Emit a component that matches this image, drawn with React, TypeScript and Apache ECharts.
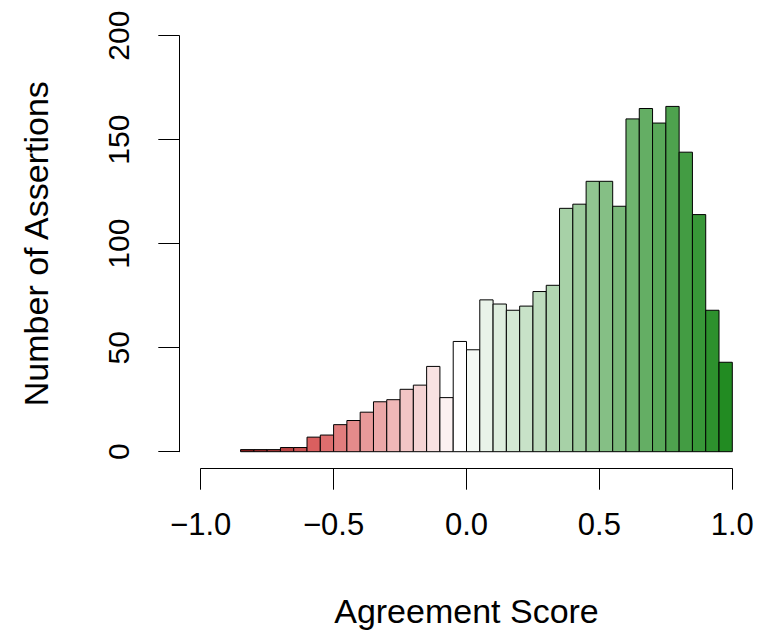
import React, { useEffect, useRef } from "react";
import * as echarts from "echarts";

const BIN_LEFT = [
  -0.85, -0.8, -0.75, -0.7, -0.65, -0.6, -0.55, -0.5, -0.45, -0.4,
  -0.35, -0.3, -0.25, -0.2, -0.15, -0.1, -0.05, 0.0, 0.05, 0.1,
  0.15, 0.2, 0.25, 0.3, 0.35, 0.4, 0.45, 0.5, 0.55, 0.6,
  0.65, 0.7, 0.75, 0.8, 0.85, 0.9, 0.95,
];
const COUNTS = [
  1, 1, 1, 2, 2, 7, 8, 13, 15, 19,
  24, 25, 30, 32, 41, 26, 53, 49, 73, 71,
  68, 70, 77, 80, 117, 119, 130, 130, 118, 160,
  165, 158, 166, 144, 114, 68, 43,
];
const BIN_WIDTH = 0.05;
const X_TICKS = [-1.0, -0.5, 0.0, 0.5, 1.0];
const Y_TICKS = [0, 50, 100, 150, 200];
const X_TITLE = "Agreement Score";
const Y_TITLE = "Number of Assertions";

// colour ramp stops (by bin right edge)
const RED_STOPS: [number, number[]][] = [
  [-0.8, [140, 25, 25]],
  [-0.55, [218, 95, 95]],
  [-0.35, [232, 154, 154]],
  [0.0, [255, 255, 255]],
];
const GREEN_END = [34, 139, 34];

function rampColor(edge: number): string {
  let rgb: number[];
  if (edge >= 0) {
    const t = Math.min(1, edge / 1.0);
    rgb = [0, 1, 2].map((i) => 255 + (GREEN_END[i] - 255) * t);
  } else {
    rgb = RED_STOPS[0][1];
    for (let k = 0; k < RED_STOPS.length - 1; k++) {
      const [a, ca] = RED_STOPS[k];
      const [b, cb] = RED_STOPS[k + 1];
      if (edge >= a && edge <= b) {
        const t = (edge - a) / (b - a);
        rgb = [0, 1, 2].map((i) => ca[i] + (cb[i] - ca[i]) * t);
        break;
      }
    }
  }
  return `rgb(${rgb.map((v) => Math.round(v)).join(",")})`;
}

const FONT = "'Liberation Sans', Arial, Helvetica, sans-serif";

export default function App() {
  const ref = useRef<HTMLDivElement>(null);
  useEffect(() => {
    if (!ref.current) return;
    const chart = echarts.init(ref.current, undefined, { renderer: "svg" });
    const data = BIN_LEFT.map((l, i) => [l, COUNTS[i]]);
    chart.setOption({
      animation: false,
      backgroundColor: "#ffffff",
      grid: { left: 200.7, top: 35.7, width: 531.6, height: 416, containLabel: false },
      xAxis: {
        type: "value",
        min: -1,
        max: 1,
        interval: 0.5,
        offset: 17,
        axisLine: { show: true, onZero: false, lineStyle: { color: "#000", width: 1 } },
        axisTick: { show: true, length: 21, lineStyle: { color: "#000", width: 1 } },
        splitLine: { show: false },
        axisLabel: {
          color: "#000",
          fontFamily: FONT,
          fontSize: 31,
          margin: 40,
          formatter: (v: number) => {
            const s = v.toFixed(1);
            return v < 0 ? "\u2212" + s.slice(1) : s;
          },
        },
        name: X_TITLE,
        nameLocation: "middle",
        nameGap: 125,
        nameTextStyle: { color: "#000", fontFamily: FONT, fontSize: 34 },
      },
      yAxis: {
        type: "value",
        min: 0,
        max: 200,
        interval: 50,
        offset: 21.4,
        axisLine: { show: true, onZero: false, lineStyle: { color: "#000", width: 1 } },
        axisTick: { show: true, length: 21, lineStyle: { color: "#000", width: 1 } },
        splitLine: { show: false },
        axisLabel: {
          color: "#000",
          fontFamily: FONT,
          fontSize: 30,
          rotate: 90,
          margin: 46,
        },
        name: Y_TITLE,
        nameLocation: "middle",
        nameGap: 126,
        nameRotate: 90,
        nameTextStyle: { color: "#000", fontFamily: FONT, fontSize: 34 },
      },
      series: [
        {
          type: "custom",
          data,
          encode: { x: 0, y: 1 },
          clip: false,
          renderItem: (params: any, api: any) => {
            const l = api.value(0);
            const c = api.value(1);
            const p1 = api.coord([l, c]);
            const p2 = api.coord([l + BIN_WIDTH, 0]);
            return {
              type: "rect",
              shape: { x: p1[0], y: p1[1], width: p2[0] - p1[0], height: p2[1] - p1[1] },
              style: { fill: rampColor(l + BIN_WIDTH), stroke: "#000", lineWidth: 1 },
            };
          },
        },
      ],
    });
    return () => chart.dispose();
  }, []);
  return (
    <div
      ref={ref}
      style={{ position: "fixed", left: 0, top: 0, width: 766, height: 633, background: "#fff" }}
    />
  );
}
